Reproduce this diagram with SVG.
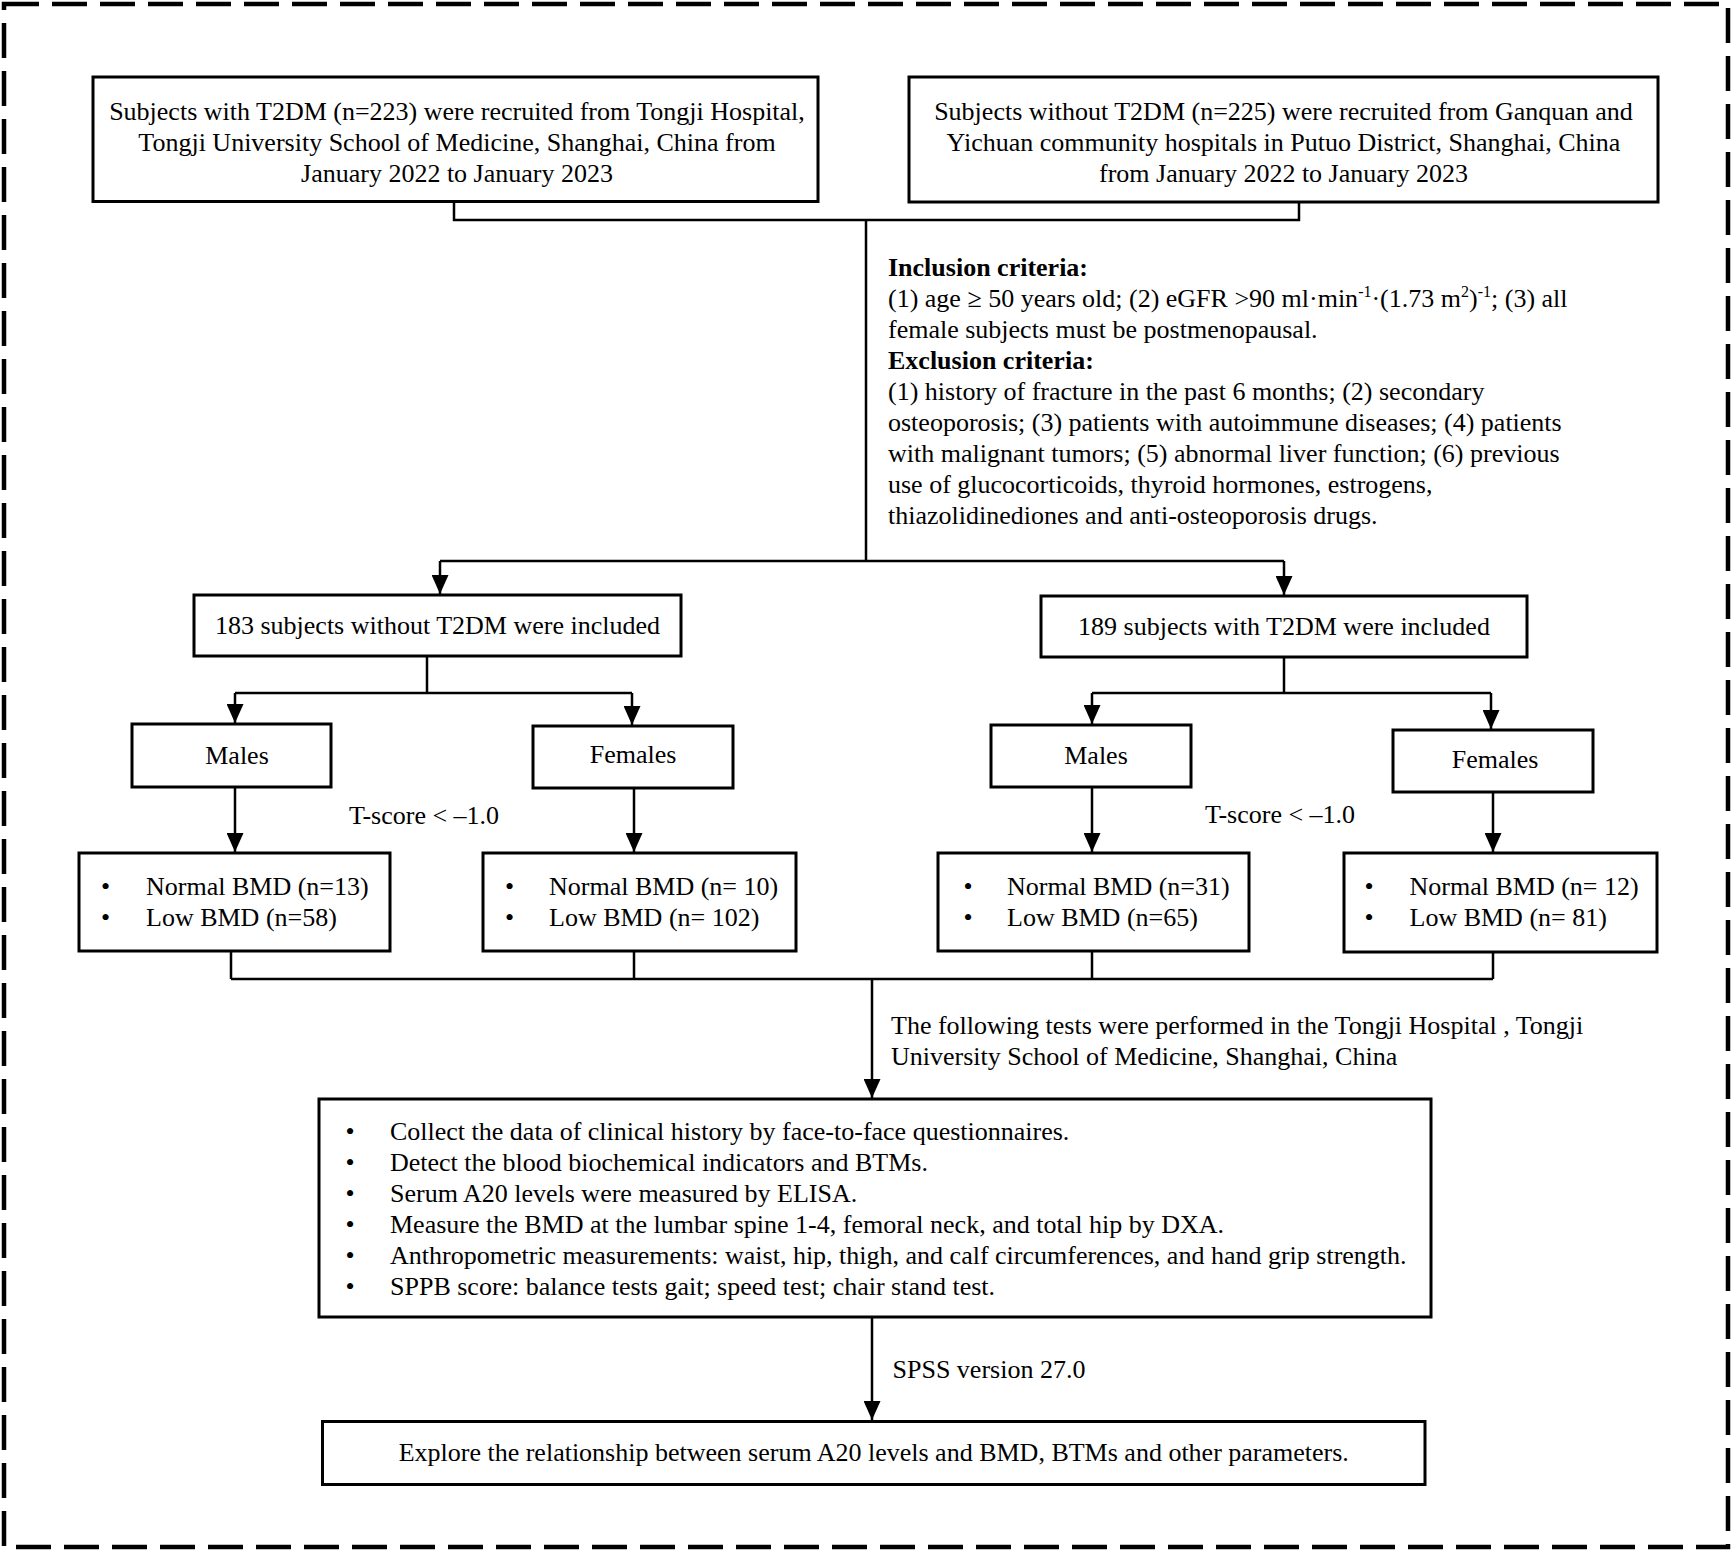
<svg xmlns="http://www.w3.org/2000/svg" width="1732" height="1551" viewBox="0 0 1732 1551">
<style>
  text { font-family: "Liberation Serif", "Times New Roman", serif; font-size: 26px; fill: #000; }
  .c { text-anchor: middle; }
  .b { font-weight: bold; }
  .box { fill: #fff; stroke: #000; stroke-width: 3; }
  .con { fill: none; stroke: #000; stroke-width: 2.5; }
  .arr { marker-end: url(#ah); }
  .sup { font-size: 16px; }
</style>
<defs>
  <marker id="ah" markerUnits="userSpaceOnUse" markerWidth="19" markerHeight="17" refX="19" refY="8.5" orient="auto">
    <path d="M0,0 L19,8.5 L0,17 Z" fill="#000"/>
  </marker>
</defs>
<rect x="0" y="0" width="1732" height="1551" fill="#fff"/>
<rect id="frame" x="4" y="4" width="1724" height="1543" fill="none" stroke="#000" stroke-width="4.5" stroke-dasharray="35 13"/>

<g id="connectors">
  <path class="con" d="M454,201.5 V220 H1299 V202"/>
  <path class="con" d="M866,220 V561"/>
  <path class="con" d="M440,561 H1284"/>
  <path class="con arr" d="M440,561 V594"/>
  <path class="con arr" d="M1284,561 V595"/>
  <path class="con" d="M427,656 V693"/>
  <path class="con" d="M235,693 H632"/>
  <path class="con arr" d="M235,693 V723"/>
  <path class="con arr" d="M632,693 V725"/>
  <path class="con" d="M1284,657 V693"/>
  <path class="con" d="M1092,693 H1491"/>
  <path class="con arr" d="M1092,693 V724"/>
  <path class="con arr" d="M1491,693 V729"/>
  <path class="con arr" d="M235,787 V852"/>
  <path class="con arr" d="M634,788 V852"/>
  <path class="con arr" d="M1092,787 V852"/>
  <path class="con arr" d="M1493,792 V852"/>
  <path class="con" d="M231,951 V979 M634,951 V979 M1092,951 V979 M1493,952 V979 M231,979 H1493"/>
  <path class="con arr" d="M872,979 V1098"/>
  <path class="con arr" d="M872,1317 V1420"/>
</g>

<g id="nodeA">
  <rect class="box" x="93" y="77" width="725" height="124.5"/>
  <text class="c" x="457" y="120">Subjects with T2DM (n=223) were recruited from Tongji Hospital,</text>
  <text class="c" x="457" y="151">Tongji University School of Medicine, Shanghai, China from</text>
  <text class="c" x="457" y="182">January 2022 to January 2023</text>
</g>
<g id="nodeB">
  <rect class="box" x="909" y="77" width="749" height="125"/>
  <text class="c" x="1283.5" y="120">Subjects without T2DM (n=225) were recruited from Ganquan and</text>
  <text class="c" x="1283.5" y="151">Yichuan community hospitals in Putuo District, Shanghai, China</text>
  <text class="c" x="1283.5" y="182">from January 2022 to January 2023</text>
</g>
<g id="criteria">
  <text class="b" x="888" y="276">Inclusion criteria:</text>
  <text x="888" y="307">(1) age ≥ 50 years old; (2) eGFR &gt;90 ml·min<tspan class="sup" dy="-10">-1</tspan><tspan dy="10">·(1.73 m</tspan><tspan class="sup" dy="-10">2</tspan><tspan dy="10">)</tspan><tspan class="sup" dy="-10">-1</tspan><tspan dy="10">; (3) all</tspan></text>
  <text x="888" y="338">female subjects must be postmenopausal.</text>
  <text class="b" x="888" y="369">Exclusion criteria:</text>
  <text x="888" y="400">(1) history of fracture in the past 6 months; (2) secondary</text>
  <text x="888" y="431">osteoporosis; (3) patients with autoimmune diseases; (4) patients</text>
  <text x="888" y="462">with malignant tumors; (5) abnormal liver function; (6) previous</text>
  <text x="888" y="493">use of glucocorticoids, thyroid hormones, estrogens,</text>
  <text x="888" y="524">thiazolidinediones and anti-osteoporosis drugs.</text>
</g>
<g id="nodeC">
  <rect class="box" x="194" y="595" width="487" height="61"/>
  <text class="c" x="437.5" y="634">183 subjects without T2DM were included</text>
</g>
<g id="nodeD">
  <rect class="box" x="1041" y="596" width="486" height="61"/>
  <text class="c" x="1284" y="635">189 subjects with T2DM were included</text>
</g>
<g id="nodeM1">
  <rect class="box" x="132" y="724" width="199" height="63"/>
  <text class="c" x="237" y="764">Males</text>
</g>
<g id="nodeF1">
  <rect class="box" x="533" y="726" width="200" height="62"/>
  <text class="c" x="633" y="763">Females</text>
</g>
<g id="nodeM2">
  <rect class="box" x="991" y="725" width="200" height="62"/>
  <text class="c" x="1096" y="764">Males</text>
</g>
<g id="nodeF2">
  <rect class="box" x="1393" y="730" width="200" height="62"/>
  <text class="c" x="1495" y="768">Females</text>
</g>
<g id="labels">
  <text class="c" x="424" y="824">T-score &lt; –1.0</text>
  <text class="c" x="1280" y="823">T-score &lt; –1.0</text>
  <text x="891" y="1034">The following tests were performed in the Tongji Hospital , Tongji</text>
  <text x="891" y="1065">University School of Medicine, Shanghai, China</text>
  <text x="892.5" y="1378">SPSS version 27.0</text>
</g>
<g id="nodeN1">
  <rect class="box" x="79" y="853" width="311" height="98"/>
  <text class="c" x="105.5" y="895">•</text><text x="146" y="895">Normal BMD (n=13)</text>
  <text class="c" x="105.5" y="926">•</text><text x="146" y="926">Low BMD (n=58)</text>
</g>
<g id="nodeN2">
  <rect class="box" x="483" y="853" width="313" height="98"/>
  <text class="c" x="509.5" y="895">•</text><text x="549" y="895">Normal BMD (n= 10)</text>
  <text class="c" x="509.5" y="926">•</text><text x="549" y="926">Low BMD (n= 102)</text>
</g>
<g id="nodeN3">
  <rect class="box" x="938" y="853" width="311" height="98"/>
  <text class="c" x="968" y="895">•</text><text x="1007" y="895">Normal BMD (n=31)</text>
  <text class="c" x="968" y="926">•</text><text x="1007" y="926">Low BMD (n=65)</text>
</g>
<g id="nodeN4">
  <rect class="box" x="1344" y="853" width="313" height="99"/>
  <text class="c" x="1369" y="895">•</text><text x="1409.5" y="895">Normal BMD (n= 12)</text>
  <text class="c" x="1369" y="926">•</text><text x="1409.5" y="926">Low BMD (n= 81)</text>
</g>
<g id="nodeTests">
  <rect class="box" x="319" y="1099" width="1112" height="218"/>
  <text class="c" x="350" y="1140">•</text><text x="390" y="1140">Collect the data of clinical history by face-to-face questionnaires.</text>
  <text class="c" x="350" y="1171">•</text><text x="390" y="1171">Detect the blood biochemical indicators and BTMs.</text>
  <text class="c" x="350" y="1202">•</text><text x="390" y="1202">Serum A20 levels were measured by ELISA.</text>
  <text class="c" x="350" y="1233">•</text><text x="390" y="1233">Measure the BMD at the lumbar spine 1-4, femoral neck, and total hip by DXA.</text>
  <text class="c" x="350" y="1264">•</text><text x="390" y="1264">Anthropometric measurements: waist, hip, thigh, and calf circumferences, and hand grip strength.</text>
  <text class="c" x="350" y="1295">•</text><text x="390" y="1295">SPPB score: balance tests gait; speed test; chair stand test.</text>
</g>
<g id="nodeExplore">
  <rect class="box" x="322.5" y="1421.5" width="1102.5" height="63"/>
  <text class="c" x="873.75" y="1461">Explore the relationship between serum A20 levels and BMD, BTMs and other parameters.</text>
</g>
</svg>
